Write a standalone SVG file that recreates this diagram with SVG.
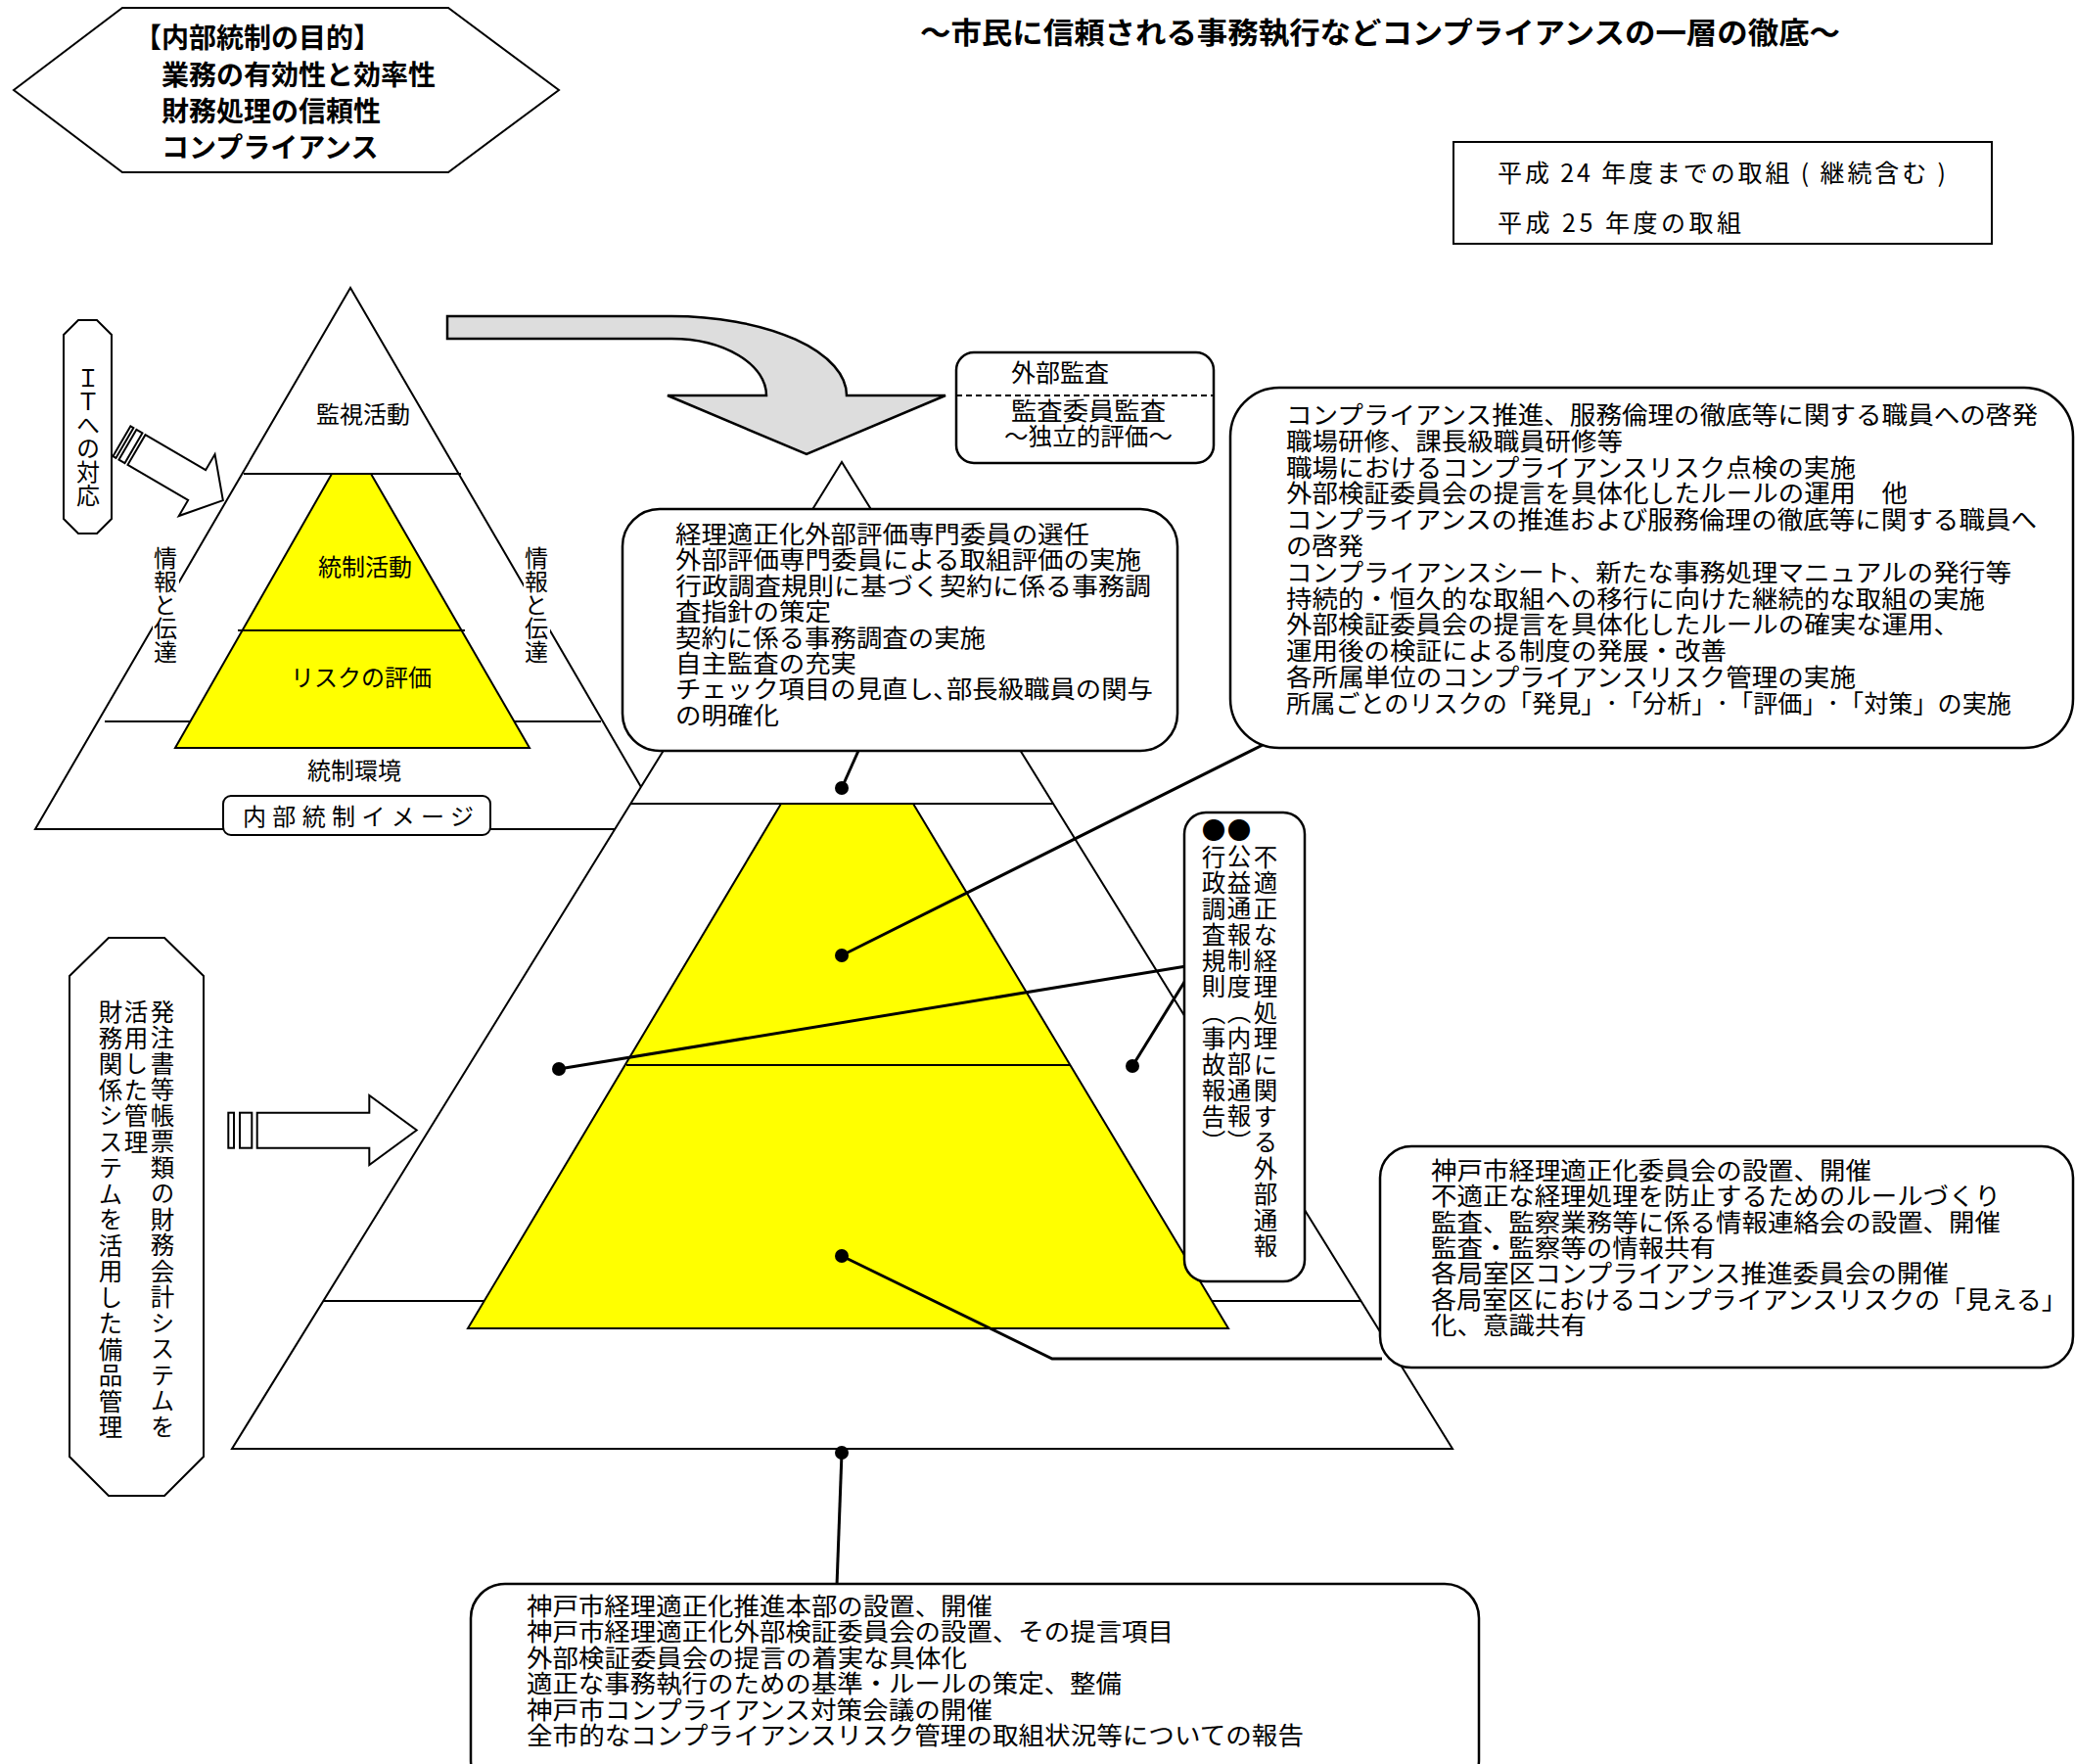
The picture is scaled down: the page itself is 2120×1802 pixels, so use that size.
<svg xmlns="http://www.w3.org/2000/svg" width="2120" height="1802" viewBox="0 0 2120 1802">
<style>
.s{fill:#fff;stroke:#000;stroke-width:2}
.bx{fill:#fff;stroke:#000;stroke-width:2.5}
.l{fill:none;stroke:#000;stroke-width:2}
.y{fill:#ffff00;stroke:#000;stroke-width:2}
.c{fill:none;stroke:#000;stroke-width:3}
.d{fill:#000}
.w{fill:#fff}
text{font-family:"Noto Sans CJK JP","Noto Sans",sans-serif;fill:#000}
.t{font-size:25px}
.vt{font-size:24.5px;letter-spacing:2px}
.m{font-size:24px}
.h{font-size:28px;font-weight:bold}
.v{writing-mode:vertical-rl}
</style>
<rect width="2120" height="1802" fill="#fff"/>

<g id="purpose">
<polygon class="s" points="14,92 125,8 458,8 571,92 458,176 125,176"/>
<text class="h"><tspan x="137" y="49">【内部統制の目的】</tspan><tspan x="165" y="87">業務の有効性と効率性</tspan><tspan x="165" y="124">財務処理の信頼性</tspan><tspan x="165" y="161">コンプライアンス</tspan></text>
</g>

<g id="title">
<text x="940" y="44" style="font-size:30px;font-weight:bold" textLength="940" lengthAdjust="spacingAndGlyphs">～市民に信頼される事務執行などコンプライアンスの一層の徹底～</text>
</g>

<g id="legend">
<rect class="s" x="1485" y="145" width="550" height="104"/>
<text class="t" x="1530" y="186" textLength="458" lengthAdjust="spacing">平成 24 年度までの取組 ( 継続含む )</text>
<text class="t" x="1530" y="237" textLength="249" lengthAdjust="spacing">平成 25 年度の取組</text>
</g>

<g id="small-pyramid">
<polygon class="s" points="358,294 36,847 680,847"/>
<line class="l" x1="249" y1="484" x2="471" y2="484"/>
<line class="l" x1="107" y1="737" x2="614" y2="737"/>
<polygon class="y" points="339,484 379,484 541,764 179,764"/>
<line class="l" x1="243" y1="644" x2="475" y2="644"/>
<text class="m" x="371" y="432" text-anchor="middle">監視活動</text>
<text class="m" x="373" y="588" text-anchor="middle">統制活動</text>
<text class="m" x="369" y="701" text-anchor="middle">リスクの評価</text>
<text class="m" x="362" y="796" text-anchor="middle">統制環境</text>
<rect class="w" x="156" y="556" width="27" height="124"/>
<rect class="w" x="535" y="556" width="27" height="124"/>
<text class="m v" x="169" y="558">情報と伝達</text>
<text class="m v" x="548" y="558">情報と伝達</text>
<rect class="s" x="228" y="813" width="273" height="40" rx="8"/>
<text class="m" x="248" y="843" textLength="236" lengthAdjust="spacing">内部統制イメージ</text>
</g>

<g id="big-pyramid">
<polygon class="s" points="860,472 237,1480 1484,1480"/>
<line class="l" x1="645" y1="821" x2="1076" y2="821"/>
<line class="l" x1="331" y1="1329" x2="1390" y2="1329"/>
<polygon class="y" points="798,821 933,821 1255,1357 478,1357"/>
<line class="l" x1="640" y1="1088" x2="1093" y2="1088"/>
</g>

<g id="gray-arrow">
<path d="M457,323 H686 A179,81 0 0 1 865,404 H966 L824,464 L682,404 H783 A97,58 0 0 0 686,346 H457 Z" fill="#dddddd" stroke="#000" stroke-width="2.5"/>
</g>

<g id="external-audit">
<rect class="bx" x="977" y="360" width="263" height="113" rx="18"/>
<line x1="977" y1="404" x2="1240" y2="404" stroke="#000" stroke-width="2" stroke-dasharray="6,4"/>
<text class="t"><tspan x="1033" y="390">外部監査</tspan><tspan x="1033" y="429" textLength="158" lengthAdjust="spacingAndGlyphs">監査委員監査</tspan><tspan x="1026" y="455" textLength="172" lengthAdjust="spacingAndGlyphs">～独立的評価～</tspan></text>
</g>

<g id="connectors">
<line class="c" x1="860" y1="805" x2="877" y2="767"/>
<line class="c" x1="860" y1="976" x2="1292" y2="760"/>
<line class="c" x1="571" y1="1092" x2="1212" y2="987"/>
<line class="c" x1="1157" y1="1089" x2="1212" y2="1000"/>
<polyline class="c" points="860,1283 1075,1388 1412,1388"/>
<line class="c" x1="860" y1="1484" x2="855" y2="1620"/>
<circle class="d" cx="860" cy="805" r="7"/>
<circle class="d" cx="860" cy="976" r="7"/>
<circle class="d" cx="571" cy="1092" r="7"/>
<circle class="d" cx="1157" cy="1089" r="7"/>
<circle class="d" cx="860" cy="1283" r="7"/>
<circle class="d" cx="860" cy="1484" r="7"/>
</g>

<g id="bubble-audit">
<rect class="bx" x="636" y="520" width="567" height="247" rx="38"/>
<text class="t"><tspan x="690" y="555" textLength="423" lengthAdjust="spacingAndGlyphs">経理適正化外部評価専門委員の選任</tspan><tspan x="690" y="581" textLength="476" lengthAdjust="spacingAndGlyphs">外部評価専門委員による取組評価の実施</tspan><tspan x="690" y="608" textLength="486" lengthAdjust="spacingAndGlyphs">行政調査規則に基づく契約に係る事務調</tspan><tspan x="690" y="634" textLength="159" lengthAdjust="spacingAndGlyphs">査指針の策定</tspan><tspan x="690" y="661" textLength="317" lengthAdjust="spacingAndGlyphs">契約に係る事務調査の実施</tspan><tspan x="690" y="687" textLength="185" lengthAdjust="spacingAndGlyphs">自主監査の充実</tspan><tspan x="690" y="713" textLength="488" lengthAdjust="spacingAndGlyphs">チェック項目の見直し､部長級職員の関与</tspan><tspan x="690" y="740" textLength="106" lengthAdjust="spacingAndGlyphs">の明確化</tspan></text>
</g>

<g id="bubble-compliance">
<rect class="bx" x="1257" y="396" width="861" height="368" rx="50"/>
<text class="t"><tspan x="1314" y="433" textLength="768" lengthAdjust="spacingAndGlyphs">コンプライアンス推進、服務倫理の徹底等に関する職員への啓発</tspan><tspan x="1314" y="460" textLength="344" lengthAdjust="spacingAndGlyphs">職場研修、課長級職員研修等</tspan><tspan x="1314" y="487" textLength="582" lengthAdjust="spacingAndGlyphs">職場におけるコンプライアンスリスク点検の実施</tspan><tspan x="1314" y="513" textLength="635" lengthAdjust="spacingAndGlyphs">外部検証委員会の提言を具体化したルールの運用　他</tspan><tspan x="1314" y="540" textLength="767" lengthAdjust="spacingAndGlyphs">コンプライアンスの推進および服務倫理の徹底等に関する職員へ</tspan><tspan x="1314" y="567" textLength="79" lengthAdjust="spacingAndGlyphs">の啓発</tspan><tspan x="1314" y="594" textLength="741" lengthAdjust="spacingAndGlyphs">コンプライアンスシート、新たな事務処理マニュアルの発行等</tspan><tspan x="1314" y="621" textLength="714" lengthAdjust="spacingAndGlyphs">持続的・恒久的な取組への移行に向けた継続的な取組の実施</tspan><tspan x="1314" y="647" textLength="688" lengthAdjust="spacingAndGlyphs">外部検証委員会の提言を具体化したルールの確実な運用、</tspan><tspan x="1314" y="674" textLength="450" lengthAdjust="spacingAndGlyphs">運用後の検証による制度の発展・改善</tspan><tspan x="1314" y="701" textLength="582" lengthAdjust="spacingAndGlyphs">各所属単位のコンプライアンスリスク管理の実施</tspan><tspan x="1314" y="728" textLength="741" lengthAdjust="spacingAndGlyphs">所属ごとのリスクの「発見」･「分析」･「評価」･「対策」の実施</tspan></text>
</g>

<g id="bubble-committee">
<rect class="bx" x="1410" y="1171" width="708" height="226" rx="32"/>
<text class="t"><tspan x="1462" y="1205" textLength="450" lengthAdjust="spacingAndGlyphs">神戸市経理適正化委員会の設置、開催</tspan><tspan x="1462" y="1231" textLength="582" lengthAdjust="spacingAndGlyphs">不適正な経理処理を防止するためのルールづくり</tspan><tspan x="1462" y="1258" textLength="582" lengthAdjust="spacingAndGlyphs">監査、監察業務等に係る情報連絡会の設置、開催</tspan><tspan x="1462" y="1284" textLength="291" lengthAdjust="spacingAndGlyphs">監査・監察等の情報共有</tspan><tspan x="1462" y="1310" textLength="529" lengthAdjust="spacingAndGlyphs">各局室区コンプライアンス推進委員会の開催</tspan><tspan x="1462" y="1337" textLength="650" lengthAdjust="spacingAndGlyphs">各局室区におけるコンプライアンスリスクの「見える」</tspan><tspan x="1462" y="1363" textLength="159" lengthAdjust="spacingAndGlyphs">化、意識共有</tspan></text>
</g>

<g id="bubble-headquarters">
<rect class="bx" x="481" y="1618" width="1030" height="215" rx="35"/>
<text class="t"><tspan x="538" y="1650" textLength="476" lengthAdjust="spacingAndGlyphs">神戸市経理適正化推進本部の設置、開催</tspan><tspan x="538" y="1676" textLength="661" lengthAdjust="spacingAndGlyphs">神戸市経理適正化外部検証委員会の設置、その提言項目</tspan><tspan x="538" y="1703" textLength="450" lengthAdjust="spacingAndGlyphs">外部検証委員会の提言の着実な具体化</tspan><tspan x="538" y="1729" textLength="608" lengthAdjust="spacingAndGlyphs">適正な事務執行のための基準・ルールの策定、整備</tspan><tspan x="538" y="1756" textLength="476" lengthAdjust="spacingAndGlyphs">神戸市コンプライアンス対策会議の開催</tspan><tspan x="538" y="1782" textLength="794" lengthAdjust="spacingAndGlyphs">全市的なコンプライアンスリスク管理の取組状況等についての報告</tspan></text>
</g>

<g id="whistle-box">
<rect class="bx" x="1210" y="830" width="123" height="479" rx="22"/>
<text class="vt v"><tspan x="1293" y="863">不適正な経理処理に関する外部通報</tspan><tspan x="1266" y="836">●公益通報制度（内部通報）</tspan><tspan x="1240" y="836">●行政調査規則（事故報告）</tspan></text>
</g>

<g id="it-box">
<polygon class="s" points="65,342 80,327 99,327 114,342 114,530 99,545 80,545 65,530"/>
<text class="m v" x="90" y="374">ＩＴへの対応</text>
</g>

<g id="it-arrow" transform="translate(139.5,459.5) rotate(30.3)">
<rect class="s" x="-17.5" y="-17.8" width="3.5" height="35.6"/>
<rect class="s" x="-10.5" y="-17.8" width="7" height="35.6"/>
<polygon class="s" points="0,-17.8 71.4,-17.8 71.4,-36.5 102.3,0 71.4,36.5 71.4,17.8 0,17.8"/>
</g>

<g id="system-box">
<polygon class="s" points="71,997 111,958 168,958 208,997 208,1488 168,1528 111,1528 71,1488"/>
<text class="vt v"><tspan x="166" y="1021">発注書等帳票類の財務会計システムを</tspan><tspan x="139" y="1021">活用した管理</tspan><tspan x="113" y="1021">財務関係システムを活用した備品管理</tspan></text>
</g>

<g id="system-arrow">
<rect class="s" x="233.3" y="1136.7" width="5.7" height="36"/>
<rect class="s" x="245" y="1136.7" width="12.3" height="36"/>
<polygon class="s" points="262.7,1136.7 377.3,1136.7 377.3,1119 425.7,1154.5 377.3,1190 377.3,1172.7 262.7,1172.7"/>
</g>
</svg>
